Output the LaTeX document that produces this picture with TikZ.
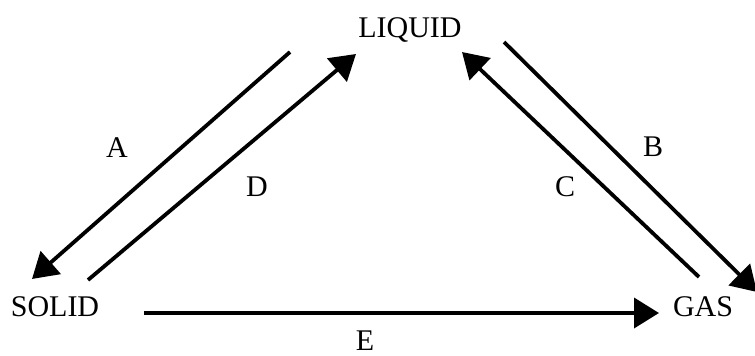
\documentclass[tikz,border=0pt]{standalone}
\usepackage{fontspec}
\setmainfont{Liberation Serif}
\usetikzlibrary{arrows.meta}
\begin{document}
\begin{tikzpicture}[x=1pt, y=-1pt,
  every node/.style={font=\fontsize{30}{35}\selectfont},
  change/.style={line width=3.8pt, -{Triangle[length=25pt, width=30pt]}},
  lbl/.style={inner sep=0pt}]
\useasboundingbox (0,0) rectangle (755,356);
% States
\node (liquid) at (410,30) {LIQUID};
\node (solid) at (55,307) {SOLID};
\node (gas) at (703,307) {GAS};

% Solid - Liquid
\coordinate (a1) at (290,52);
\coordinate (a2) at (32,279);
\coordinate (d1) at (88,280);
\coordinate (d2) at (356,54);
\draw[change] (a1) -- (a2);
\draw[change] (d1) -- (d2);
\node[lbl] (la) at (117,148) {A};
\node[lbl] (ld) at (257,187) {D};

% Liquid - Gas
\coordinate (b1) at (504,42);
\coordinate (b2) at (757,292);
\coordinate (c1) at (699,277);
\coordinate (c2) at (462,52);
\draw[change] (b1) -- (b2);
\draw[change] (c1) -- (c2);
\node[lbl] (lb) at (653,147) {B};
\node[lbl] (lc) at (565,187) {C};

% Solid - Gas
\coordinate (e1) at (144,313);
\coordinate (e2) at (659,313);
\draw[change] (e1) -- (e2);
\node[lbl] (le) at (365,341) {E};
\end{tikzpicture}
\end{document}
